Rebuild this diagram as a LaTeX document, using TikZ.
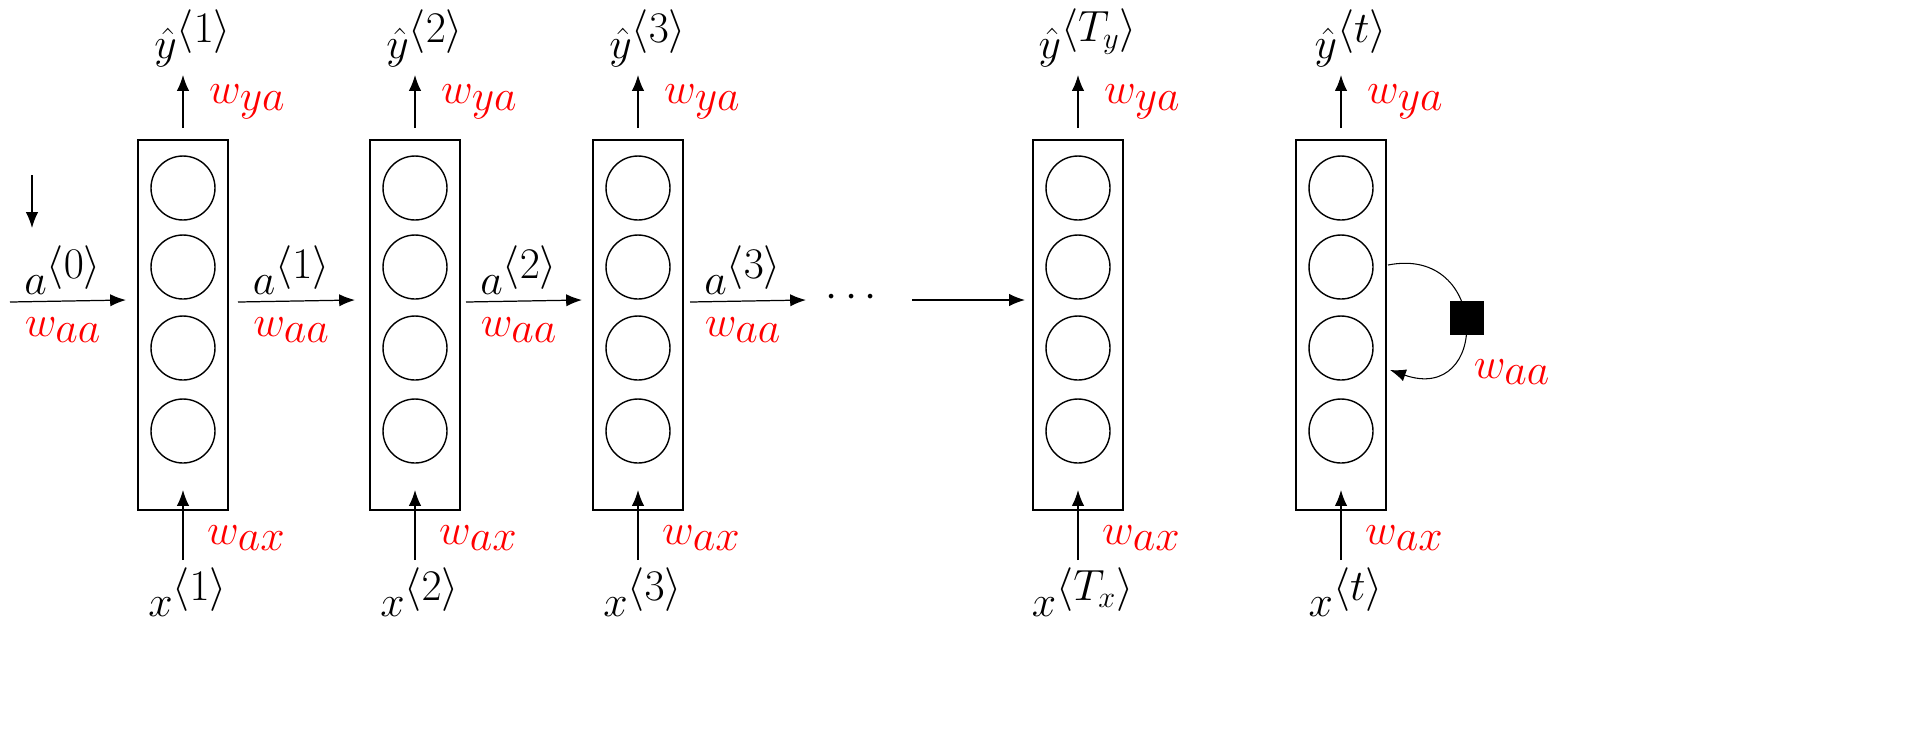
\documentclass[tikz,border=0pt]{standalone}
\usepackage{amsmath}
\usetikzlibrary{arrows.meta}
\begin{document}
\begin{tikzpicture}[x=0.02cm,y=-0.02cm,
  box/.style={draw,line width=1pt,minimum width=1.8cm,minimum height=7.4cm,inner sep=0},
  neur/.style={draw,circle,line width=0.8pt,minimum size=1.28cm,inner sep=0},
  arr/.style={-{Latex[length=9pt,width=7pt]},line width=0.7pt},
  lbl/.style={font=\fontsize{36}{42}\selectfont},
  red/.style={lbl,text=red}]
\useasboundingbox (0,0) rectangle (1906,755);
\foreach \n/\x/\yl/\xl/\w in {1/183/1/1/0,2/415/2/2/0,3/638/3/3/0,4/1078/T_y/T_x/0,5/1341/t/t/0}{
  \node[box] (b\n) at (\x,325) {};
  \foreach \k/\yy in {1/188,2/267,3/348,4/431} \node[neur] (c\n\k) at (\x,\yy) {};
  \coordinate (ot\n) at (\x,128);
  \coordinate (oh\n) at (\x,75);
  \draw[arr] (ot\n) -- (oh\n);
  \node[lbl] (y\n) at (\x+10,38) {$\hat{y}^{\langle \yl\rangle}$};
  \node[red,anchor=west] (wy\n) at (\x+20,102) {$w_{ya}$};
  \coordinate (it\n) at (\x,560);
  \coordinate (ih\n) at (\x,490);
  \draw[arr] (it\n) -- (ih\n);
  \node[lbl] (x\n) at (\x+5,592) {$x^{\langle \xl\rangle}$};
  \node[red,anchor=west] (wx\n) at (\x+18,538) {$w_{ax}$};
}
\coordinate (d0) at (32,175); \coordinate (d1) at (32,228);
\draw[arr] (d0) -- (d1);
\foreach \i/\s/\e/\lab in {0/10/126/0,1/238/355/1,2/466/582/2,3/690/806/3}{
  \coordinate (hs\i) at (\s,302); \coordinate (he\i) at (\e,300);
  \draw[arr] (hs\i) -- (he\i);
  \node[lbl] (a\i) at ({(\s+\e)/2-5},270) {$a^{\langle \lab\rangle}$};
  \node[red] (wa\i) at ({(\s+\e)/2-5},330) {$w_{aa}$};
}
\node[lbl] (dots) at (855,298) {$\cdots$};
\coordinate (hs4) at (912,300); \coordinate (he4) at (1025,300);
\draw[arr] (hs4) -- (he4);
\coordinate (ls) at (1388,265); \coordinate (le) at (1390,370);
\draw[arr,line width=0.6pt] (ls) .. controls (1490,245) and (1490,405) .. (le);
\node[fill=black,minimum size=0.68cm,inner sep=0] (sq) at (1467,318) {};
\node[red] (wa5) at (1512,372) {$w_{aa}$};
\end{tikzpicture}
\end{document}
